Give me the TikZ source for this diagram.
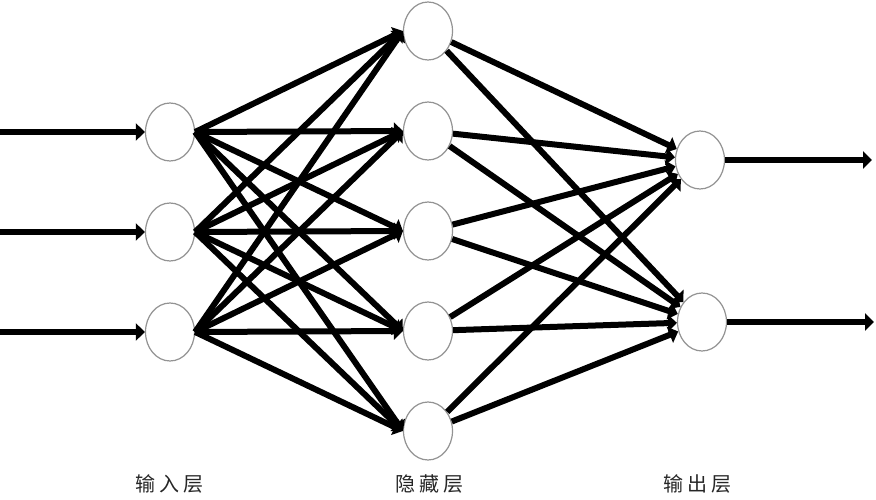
\documentclass[tikz,border=0pt]{standalone}
\usepackage{fontspec}
\newfontfamily\cjk{Noto Sans CJK SC}
\usetikzlibrary{shapes.geometric,positioning,arrows.meta}

\begin{document}
\begin{tikzpicture}[x=1pt,y=-1pt,
    neuron/.style={ellipse,draw=gray!85,line width=1.2pt,fill=white,
        minimum width=49pt,minimum height=58pt,inner sep=0pt},
    link/.style={line width=6pt,-{Triangle[length=9pt,width=17pt]}},
    layername/.style={font=\cjk\fontsize{20pt}{22pt}\selectfont,text=black!85}]
    \useasboundingbox (0,0) rectangle (876,500);

    % Input layer
    \foreach \i/\y in {1/132,2/232,3/332}
        \node[neuron] (i\i) at (170,\y) {};
    % Hidden layer
    \foreach \h/\y in {1/31,2/131,3/231,4/331,5/431}
        \node[neuron] (h\h) at (428,\y) {};
    % Output layer
    \node[neuron] (o1) at (700,160) {};
    \node[neuron] (o2) at (702,322) {};

    % Inputs and outputs
    \foreach \i/\y in {1/132,2/232,3/332} {
        \coordinate (in\i) at (0,\y);
        \draw[link] (in\i) -- (i\i.west);
    }
    \coordinate (out1) at (872,160);
    \coordinate (out2) at (874,322);
    \draw[link] (o1.east) -- (out1);
    \draw[link] (o2.east) -- (out2);

    % Input -> hidden
    \foreach \i in {1,2,3}
        \foreach \h in {1,...,5}
            \draw[link] (i\i.east) -- (h\h.west);

    % Hidden -> output
    \foreach \h in {1,...,5}
        \foreach \o in {1,2}
            \draw[link] (h\h) -- (o\o);

    % Layer names
    \node[layername] (lin) at (169,484) {输\hspace{4pt}入\hspace{4pt}层};
    \node[layername] (lhid) at (429,484) {隐\hspace{4pt}藏\hspace{4pt}层};
    \node[layername] (lout) at (697,484) {输\hspace{4pt}出\hspace{4pt}层};
\end{tikzpicture}
\end{document}
